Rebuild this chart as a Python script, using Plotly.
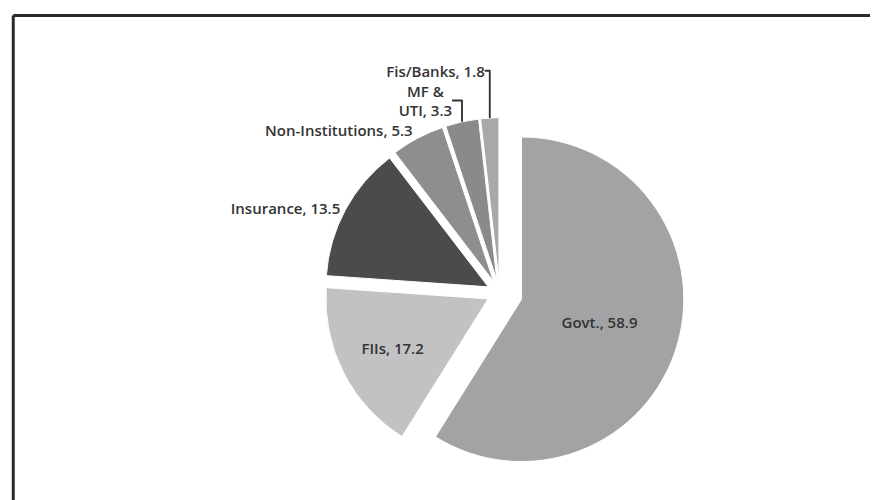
import plotly.graph_objects as go

labels = ["Govt.", "FIIs", "Insurance", "Non-Institutions", "MF & UTI", "Fis/Banks"]
values = [58.9, 17.2, 13.5, 5.3, 3.3, 1.8]
text_labels = ["Govt., 58.9", "FIIs, 17.2", "Insurance, 13.5", "Non-Institutions, 5.3", "MF &<br>UTI, 3.3", "Fis/Banks, 1.8"]
colors = ["#a3a3a5", "#c2c2c4", "#4b4b4d", "#8e8e90", "#8a8a8c", "#a8a8aa"]
positions = ["inside", "inside", "outside", "outside", "outside", "outside"]
pulls = [0.14, 0.08, 0.08, 0.08, 0.08, 0.08]

fig = go.Figure(go.Pie(
    labels=labels,
    values=values,
    text=text_labels,
    texttemplate="%{text}",
    textposition=positions,
    insidetextorientation="horizontal",
    sort=False,
    direction="clockwise",
    rotation=0,
    pull=pulls,
    automargin=False,
    marker=dict(colors=colors, line=dict(color="#ffffff", width=1)),
    textfont=dict(family="Open Sans", size=15, color="#333333", weight=600),
    insidetextfont=dict(family="Open Sans", size=15, color="#333333", weight=600),
    outsidetextfont=dict(family="Open Sans", size=15, color="#333333", weight=600),
    domain=dict(x=[0.2, 0.92], y=[0.06, 0.80]),
    showlegend=False,
    hoverinfo="label+value",
))

fig.update_layout(
    width=878, height=500,
    margin=dict(l=0, r=0, t=0, b=0, pad=0, autoexpand=False),
    paper_bgcolor="#ffffff",
    plot_bgcolor="#ffffff",
    shapes=[
        dict(type="line", xref="paper", yref="paper", x0=0.006, x1=1.0, y0=0.985, y1=0.985,
             line=dict(color="#2a2a2a", width=3)),
        dict(type="line", xref="paper", yref="paper", x0=0.006, x1=0.006, y0=0.0, y1=0.985,
             line=dict(color="#2a2a2a", width=3)),
    ],
)

fig.write_html("out.html")
